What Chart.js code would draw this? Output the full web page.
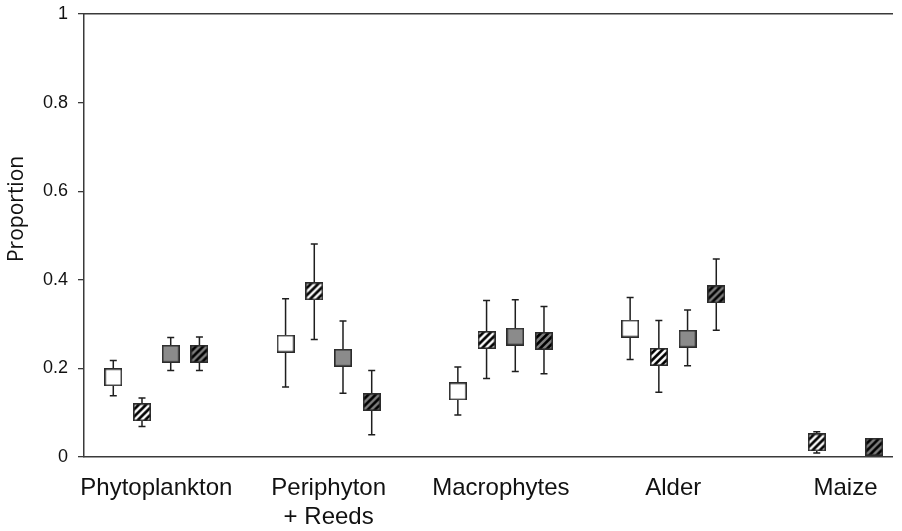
<!DOCTYPE html>
<html>
<head>
<meta charset="utf-8">
<script src="https://cdn.jsdelivr.net/npm/chart.js@4.4.1/dist/chart.umd.min.js"></script>
<style>
  html, body { margin: 0; padding: 0; background: #ffffff; }
  #wrap { width: 902px; height: 531px; }
</style>
</head>
<body>
<div id="wrap"><canvas id="chart" width="902" height="531"></canvas></div>
<script>
// Food sources (x categories)
const categories = ['Phytoplankton', ['Periphyton', '+ Reeds'], 'Macrophytes', 'Alder', 'Maize'];

// Mean proportions per treatment (null = not estimated)
const openValues        = [0.180, 0.256, 0.148, 0.290, null];
const openHatchedValues = [0.101, 0.374, 0.264, 0.226, 0.033];
const greyValues        = [0.233, 0.224, 0.272, 0.267, null];
const greyHatchedValues = [0.233, 0.124, 0.262, 0.367, 0.023];

// Upper and lower limits of the error bars
const openUpper        = [0.218, 0.357, 0.203, 0.360, null];
const openLower        = [0.138, 0.158, 0.095, 0.220, null];
const openHatchedUpper = [0.133, 0.481, 0.353, 0.308, 0.057];
const openHatchedLower = [0.069, 0.265, 0.177, 0.146, 0.009];
const greyUpper        = [0.270, 0.307, 0.355, 0.332, null];
const greyLower        = [0.195, 0.144, 0.193, 0.206, null];
const greyHatchedUpper = [0.271, 0.195, 0.340, 0.447, 0.030];
const greyHatchedLower = [0.195, 0.050, 0.188, 0.286, 0.016];

// Y axis ticks
const yTicks = [0, 0.2, 0.4, 0.6, 0.8, 1];

// Square marker with optional diagonal hatching
function makeMarker(fill, hatched) {
  const S = 18;
  const c = document.createElement('canvas');
  c.width = S; c.height = S;
  const g = c.getContext('2d');
  g.fillStyle = fill;
  g.fillRect(0, 0, S, S);
  if (hatched) {
    g.save();
    g.beginPath(); g.rect(0, 0, S, S); g.clip();
    g.strokeStyle = '#000000';
    g.lineWidth = 2.6;
    for (let k = -S; k < 2 * S; k += 7.2) {
      g.beginPath();
      g.moveTo(k, S);
      g.lineTo(k + S, 0);
      g.stroke();
    }
    g.restore();
  }
  g.strokeStyle = '#2b2b2b';
  g.lineWidth = 1.6;
  g.strokeRect(0.8, 0.8, S - 1.6, S - 1.6);
  return c;
}

const series = [
  { values: openValues,        upper: openUpper,        lower: openLower,        marker: makeMarker('#ffffff', false) },
  { values: openHatchedValues, upper: openHatchedUpper, lower: openHatchedLower, marker: makeMarker('#ffffff', true) },
  { values: greyValues,        upper: greyUpper,        lower: greyLower,        marker: makeMarker('#8b8b8b', false) },
  { values: greyHatchedValues, upper: greyHatchedUpper, lower: greyHatchedLower, marker: makeMarker('#808080', true) }
];

// Side-by-side placement inside each category; markers present in a
// category are centred on it.
const slot = 1 / 6;
function offsetFor(seriesIndex, catIndex) {
  const present = series.map((s, i) => s.values[catIndex] != null ? i : null).filter(i => i !== null);
  const mean = present.reduce((a, b) => a + b, 0) / present.length;
  return (seriesIndex - mean) * slot;
}

const datasets = series.map((s, si) => ({
  data: s.values.map((v, ci) => v == null ? null : { x: ci + offsetFor(si, ci), y: v, hi: s.upper[ci], lo: s.lower[ci] })
    .filter(p => p !== null),
  showLine: false,
  pointStyle: s.marker,
  pointRadius: 9,
  pointHoverRadius: 9,
  clip: false
}));

// Vertical error bars with caps, drawn beneath the markers
const errorBars = {
  id: 'errorBars',
  beforeDatasetsDraw(chart) {
    const ctx = chart.ctx;
    const y = chart.scales.y;
    ctx.save();
    ctx.strokeStyle = '#1e1e1e';
    ctx.lineWidth = 1.5;
    chart.data.datasets.forEach((ds, di) => {
      const meta = chart.getDatasetMeta(di);
      ds.data.forEach((p, pi) => {
        const el = meta.data[pi];
        if (!el || p.hi == null) return;
        const x = el.x;
        const yh = y.getPixelForValue(p.hi);
        const yl = y.getPixelForValue(p.lo);
        ctx.beginPath();
        ctx.moveTo(x, yh); ctx.lineTo(x, yl);
        ctx.moveTo(x - 3.5, yh); ctx.lineTo(x + 3.5, yh);
        ctx.moveTo(x - 3.5, yl); ctx.lineTo(x + 3.5, yl);
        ctx.stroke();
      });
    });
    ctx.restore();
  }
};

// Rotated y axis title
const yTitle = {
  id: 'yTitle',
  afterDraw(chart) {
    const a = chart.chartArea;
    const ctx = chart.ctx;
    ctx.save();
    ctx.translate(17, a.top + (a.bottom - a.top) * 0.44);
    ctx.rotate(-Math.PI / 2);
    ctx.font = '21px "Open Sans"';
    ctx.fillStyle = '#111111';
    ctx.textAlign = 'center';
    ctx.textBaseline = 'middle';
    ctx.fillText('Proportion', 0, 0);
    ctx.restore();
  }
};

new Chart(document.getElementById('chart'), {
  type: 'scatter',
  data: { datasets },
  plugins: [errorBars, yTitle],
  options: {
    responsive: false,
    animation: false,
    events: [],
    layout: { padding: { top: 14, right: 1, left: 0, bottom: 0 } },
    plugins: { legend: { display: false }, tooltip: { enabled: false } },
    scales: {
      x: {
        type: 'linear',
        position: 'bottom',
        min: -0.42,
        max: 4.27,
        afterBuildTicks(scale) {
          scale.ticks = categories.map((_, i) => ({ value: i }));
        },
        afterFit(scale) {
          scale.height = 74;
          scale.paddingLeft = 0; scale.paddingRight = 0;
        },
        grid: { display: false, drawTicks: false },
        border: { display: true, color: '#3a3a3a', width: 1.5 },
        ticks: {
          autoSkip: false,
          maxRotation: 0,
          padding: 17,
          color: '#111111',
          font: { family: '"Liberation Sans", Arial, sans-serif', size: 24, lineHeight: 1.2 },
          callback: (value) => categories[value]
        }
      },
      xTop: {
        type: 'linear',
        position: 'top',
        min: -0.42,
        max: 4.27,
        afterFit(scale) {
          scale.height = 0;
          scale.paddingLeft = 0; scale.paddingRight = 0;
        },
        grid: { display: false, drawTicks: false },
        border: { display: true, color: '#3a3a3a', width: 1.5 },
        ticks: { display: false }
      },
      y: {
        min: 0,
        max: 1,
        afterBuildTicks(scale) {
          scale.ticks = yTicks.map(v => ({ value: v }));
        },
        afterFit(scale) {
          scale.width = 84;
          scale.paddingTop = 0; scale.paddingBottom = 0;
        },
        grid: { drawOnChartArea: false, drawTicks: true, tickLength: 6, color: '#3a3a3a', lineWidth: 1.3 },
        border: { display: true, color: '#3a3a3a', width: 1.5 },
        ticks: {
          padding: 10,
          color: '#111111',
          font: { family: '"Liberation Sans", Arial, sans-serif', size: 18 },
          callback: (v) => String(v)
        }
      }
    }
  }
});
</script>
</body>
</html>
